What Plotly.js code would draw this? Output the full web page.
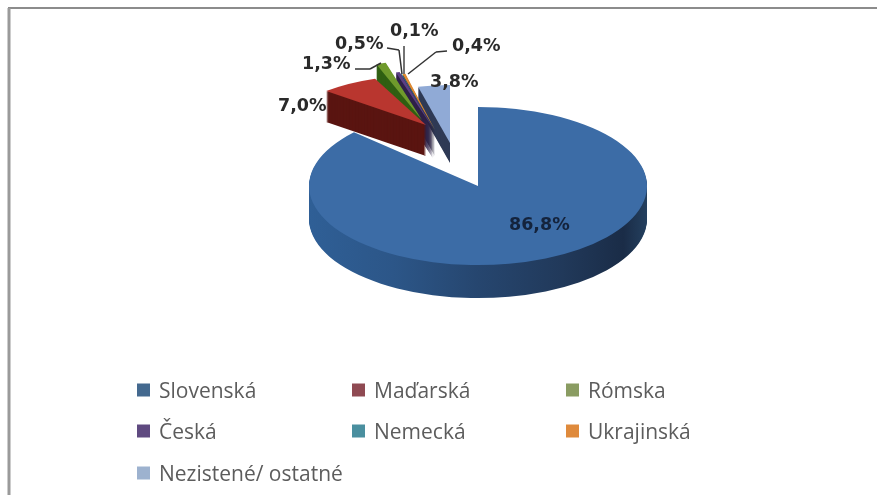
<!DOCTYPE html>
<html>
<head>
<meta charset="utf-8">
<script src="https://cdn.plot.ly/plotly-3.0.1.min.js"></script>
<style>
html,body{margin:0;padding:0;background:#fff;overflow:hidden}
#chart{width:877px;height:495px;filter:blur(0.7px)}
</style>
</head>
<body>
<div id="chart"></div>
<script>
// ---- data ----
const categories = ["Slovenská","Maďarská","Rómska","Česká","Nemecká","Ukrajinská","Nezistené/ ostatné"];
const shares = [86.8,7.0,1.3,0.5,0.1,0.4,3.8];
const valueLabels = ["86,8%","7,0%","1,3%","0,5%","0,1%","0,4%","3,8%"];

// ---- styles ----
const W = 877, H = 495;
const topColors  = ["#3c6ca6","#b9362f","#6f9a2c","#5b3f84","#2f93a8","#e08a30","#90aad6"];
const sideColors = ["#2c5688","#5a1511","#2f5f12","#2e2048","#2a2a48","#2e2a40","#2f3a55"];
const legendColors = ["#44698f","#8f4a52","#8a9c62","#5f4a80","#4a8f9f","#df8a3c","#9db2cf"];
// exploded placement of each wedge: apex x, apex y, radius x, radius y, extrusion depth
const placement = [
  {cx:478,cy:186,rx:169,ry:79,d:33},
  {cx:426,cy:125,rx:136,ry:50,d:31},
  {cx:422,cy:120,rx:122,ry:60,d:24},
  {cx:433,cy:128,rx:125,ry:58,d:30},
  {cx:434,cy:129,rx:125,ry:58,d:28},
  {cx:435,cy:130,rx:125,ry:58,d:26},
  {cx:450,cy:143,rx:135,ry:58,d:20}
];
const drawOrder = [6,5,4,3,2,1,0];
const labelPos = [[539,224],[302,105],[326,63],[359,43],[414,30],[476,45],[454,81]];
const legendPos = [[137,390],[352,390],[566,390],[137,431],[352,431],[566,431],[137,473]];
const STEP = 1;

// ---- traces: each wedge a pie of its own, extruded by stacked copies ----
const traces = [], layerInfo = [];
function addLayer(i, color, dy, isSide){
  const p = placement[i];
  const colors = categories.map((_,j)=> j===i ? color : "rgba(0,0,0,0)");
  const halfX = p.rx/W, halfY = p.rx/H;
  traces.push({
    type:"pie", labels:categories, values:shares, sort:false, direction:"clockwise", rotation:0,
    textinfo:"none", hoverinfo:"skip", showlegend:false,
    marker:{colors:colors,line:{width:0}},
    domain:{x:[0.5-halfX,0.5+halfX],y:[0.5-halfY,0.5+halfY]}
  });
  layerInfo.push({i:i,k:p.ry/p.rx,tx:p.cx,ty:p.cy+dy,isSide:isSide});
}
drawOrder.forEach(i=>{
  const p = placement[i];
  for(let dy=p.d; dy>0; dy-=STEP) addLayer(i, sideColors[i], dy, true);
  addLayer(i, topColors[i], 0, false);
});

// ---- texts ----
const annotations = [];
valueLabels.forEach((t,i)=>annotations.push({
  text:t, x:labelPos[i][0]/W, y:1-labelPos[i][1]/H, xref:"paper", yref:"paper",
  showarrow:false, xanchor:"center", yanchor:"middle",
  font:{family:"DejaVu Sans",size:17.5,color:i===0?"#14233c":"#2a2a2a",weight:700}
}));
categories.forEach((t,i)=>annotations.push({
  text:t, x:(legendPos[i][0]+20)/W, y:1-legendPos[i][1]/H, xref:"paper", yref:"paper",
  showarrow:false, xanchor:"left", yanchor:"middle",
  font:{family:"Open Sans",size:21,color:"#5c5c5c"}
}));

// ---- shapes: legend keys, frame, leader lines ----
const px = x=>x/W, py = y=>1-y/H;
const shapes = [];
categories.forEach((_,i)=>{
  const [x,y] = legendPos[i];
  shapes.push({type:"rect",xref:"paper",yref:"paper",x0:px(x),x1:px(x+13),y0:py(y-6.5),y1:py(y+6.5),
    fillcolor:legendColors[i],line:{width:0}});
});
const lineSets = [
  {pts:[[355,69],[370,69],[381,63]],c:"#333"},
  {pts:[[387,48],[399,50],[402,74]],c:"#333"},
  {pts:[[404,46],[404,74]],c:"#444"},
  {pts:[[447,51],[436,52],[408,74]],c:"#333"}
];
lineSets.forEach(s=>shapes.push({type:"line",xref:"paper",yref:"paper",
  x0:px(s.pts[0][0]),y0:py(s.pts[0][1]),x1:px(s.pts[1][0]),y1:py(s.pts[1][1]),line:{color:s.c,width:1.5}}));
lineSets.forEach(s=>{ if(s.pts[2]) shapes.push({type:"line",xref:"paper",yref:"paper",
  x0:px(s.pts[1][0]),y0:py(s.pts[1][1]),x1:px(s.pts[2][0]),y1:py(s.pts[2][1]),line:{color:s.c,width:1.5}});});
shapes.push({type:"line",xref:"paper",yref:"paper",x0:px(8),x1:1,y0:py(8),y1:py(8),line:{color:"#8c8c8c",width:2}});
shapes.push({type:"line",xref:"paper",yref:"paper",x0:px(9),x1:px(9),y0:py(8),y1:0,line:{color:"#9a9a9a",width:3}});

const layout = {
  width:W,height:H,margin:{l:0,r:0,t:0,b:0},autosize:false,
  paper_bgcolor:"#fff",plot_bgcolor:"#fff",showlegend:false,
  annotations:annotations,shapes:shapes
};

// ---- squash + place the wedges into the tilted 3D view ----
function applyView(gd){
  const svg = gd.querySelector("svg.main-svg");
  if(!svg.querySelector("#sideGrad")){
    const ns="http://www.w3.org/2000/svg";
    const defs=document.createElementNS(ns,"defs");
    const g=document.createElementNS(ns,"linearGradient");
    g.setAttribute("id","sideGrad");
    [[0,"#2f5f96"],[0.25,"#2c5688"],[0.5,"#26466f"],[0.75,"#21395a"],[0.93,"#1a2c47"],[1,"#24405f"]].forEach(s=>{
      const st=document.createElementNS(ns,"stop");
      st.setAttribute("offset",s[0]);st.setAttribute("stop-color",s[1]);g.appendChild(st);
    });
    defs.appendChild(g);svg.insertBefore(defs,svg.firstChild);
  }
  const groups = gd.querySelectorAll(".pielayer .trace");
  groups.forEach((g,n)=>{
    const L = layerInfo[n];
    const ox = W/2, oy = H/2;
    g.setAttribute("transform",`translate(${L.tx},${L.ty}) scale(1,${L.k}) translate(${-ox},${-oy})`);
    if(L.i===0 && L.isSide){
      g.querySelectorAll("path.surface").forEach(s=>{
        if(s.style.fill && !/, 0\)$/.test(s.style.fill) && s.style.fillOpacity!=="0") s.style.fill="url(#sideGrad)";
      });
    }
  });
}
const gd = document.getElementById("chart");
Plotly.newPlot(gd,traces,layout,{displayModeBar:false,staticPlot:true}).then(()=>applyView(gd));
</script>
</body>
</html>
